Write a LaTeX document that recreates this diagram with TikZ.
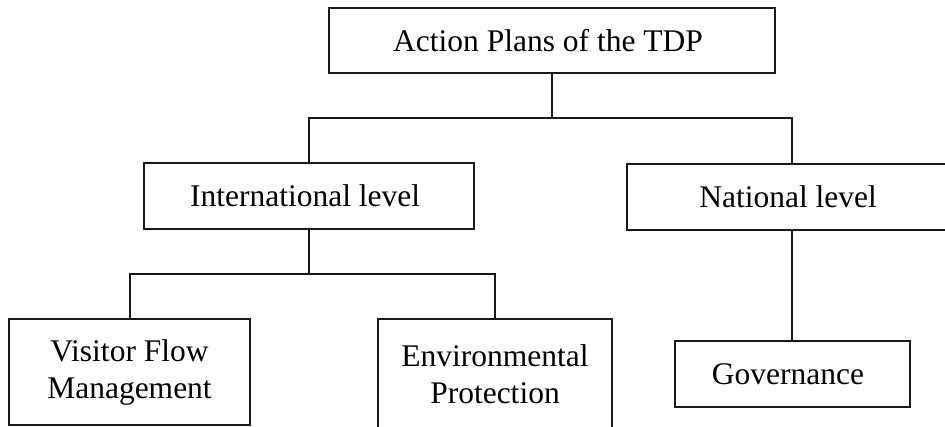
\documentclass[tikz,border=0pt]{standalone}
\usepackage{fontspec}
\setmainfont{Liberation Serif}
\usepackage{tikz}
\usetikzlibrary{
    positioning
}
\definecolor{tdpline}{RGB}{25,25,25}

\begin{document}
\begin{tikzpicture}[
        x=1pt, y=1pt,
        box/.style={
            draw=tdpline,
            line width=2pt,
            fill=white,
            align=center,
            inner sep=0pt,
            outer sep=0pt,
            minimum height=66pt,
            font=\fontsize{31.5}{37}\selectfont
        },
        link/.style={
            draw=tdpline,
            line width=2pt
        }
    ]

    \useasboundingbox (0,0) rectangle (945,426);
    \clip (0,0) rectangle (945,426);

    \node[box, minimum width=446pt, minimum height=65pt] (plans) at (552,385.5) {
        Action Plans of the TDP
    };

    \node[box, minimum width=330pt, below=90pt of plans, xshift=-243pt] (intl) {
        International level
    };

    \node[box, minimum width=330pt, below=91pt of plans, xshift=240pt] (natl) {
        National level
    };

    \node[box, minimum width=241pt, minimum height=106pt, below=90pt of intl, xshift=-179.5pt] (visitor) {
        Visitor Flow\\Management
    };

    \node[box, minimum width=234pt, minimum height=110pt, below=90pt of intl, xshift=186pt] (envir) {
        Environmental\\Protection
    };

    \node[box, minimum width=235pt, below=111pt of natl] (gov) {
        Governance
    };

    % forks under the boxes
    \path (plans.south) ++(0,-45) coordinate (split1);
    \path (intl.south) ++(0,-45) coordinate (split2);

    \draw[link] (plans.south) -- (split1);
    \draw[link] (intl.north) |- (split1) -| (natl.north);
    \draw[link] (intl.south) -- (split2);
    \draw[link] (visitor.north) |- (split2) -| (envir.north);
    \draw[link] (natl) -- (gov);

    \end{tikzpicture}
\end{document}
